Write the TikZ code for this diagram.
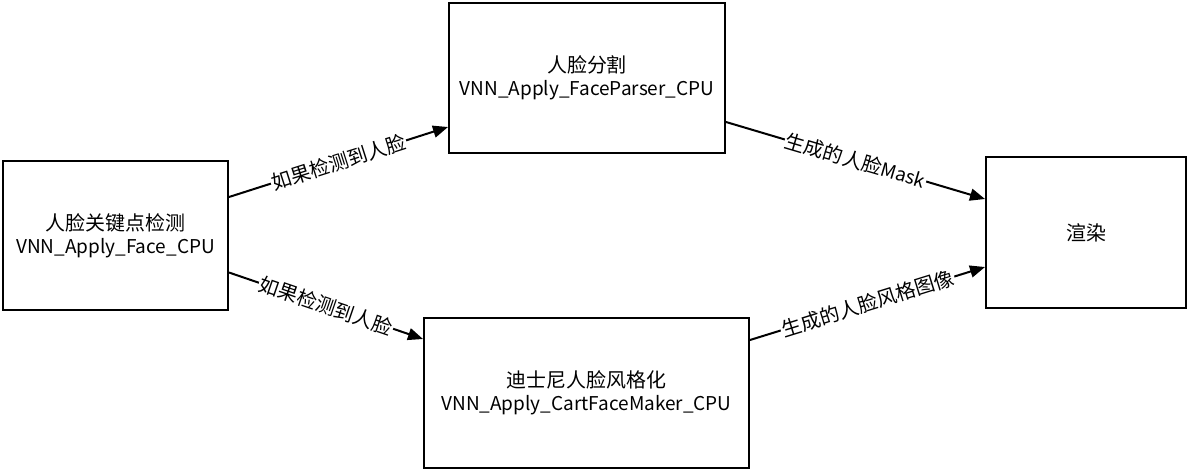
\documentclass[tikz,border=0pt]{standalone}
\usepackage{fontspec}
\setmainfont{Noto Sans CJK SC}
\newfontfamily\cjk[Scale=1.05]{Noto Sans CJK SC}
\usetikzlibrary{arrows.meta}
\begin{document}
\begin{tikzpicture}[x=1pt,y=-1pt,
  box/.style={draw=black,line width=2pt,fill=white,inner sep=0pt,align=center,
    font=\fontsize{19}{23}\selectfont},
  conn/.style={line width=2pt,-{Triangle[length=15pt,width=12pt]}},
  lbl/.style={midway,sloped,fill=white,inner sep=1pt,font=\fontsize{19}{23}\selectfont}]
\useasboundingbox (0,0) rectangle (1190,472);
\node[box,minimum width=225pt,minimum height=149pt] (L) at (115.5,235.5) {{\cjk 人脸关键点检测}\\VNN\_Apply\_Face\_CPU};
\node[box,minimum width=276pt,minimum height=150pt] (T) at (587,78) {{\cjk 人脸分割}\\VNN\_Apply\_FaceParser\_CPU};
\node[box,minimum width=325pt,minimum height=150pt] (B) at (586.5,393) {{\cjk 迪士尼人脸风格化}\\VNN\_Apply\_CartFaceMaker\_CPU};
\node[box,minimum width=200pt,minimum height=151pt] (R) at (1086,232.5) {{\cjk 渲染}};
\draw[conn] ([yshift=38.5pt]L.east) -- node[lbl]{\cjk 如果检测到人脸} ([yshift=-49pt]T.west);
\draw[conn] ([yshift=-37pt]L.east) -- node[lbl]{\cjk 如果检测到人脸} ([yshift=54pt]B.west);
\draw[conn] ([yshift=-44pt]T.east) -- node[lbl]{{\cjk 生成的人脸}Mask} ([yshift=33.5pt]R.west);
\draw[conn] ([yshift=53pt]B.east) -- node[lbl]{\cjk 生成的人脸风格图像} ([yshift=-34.5pt]R.west);
\end{tikzpicture}
\end{document}
